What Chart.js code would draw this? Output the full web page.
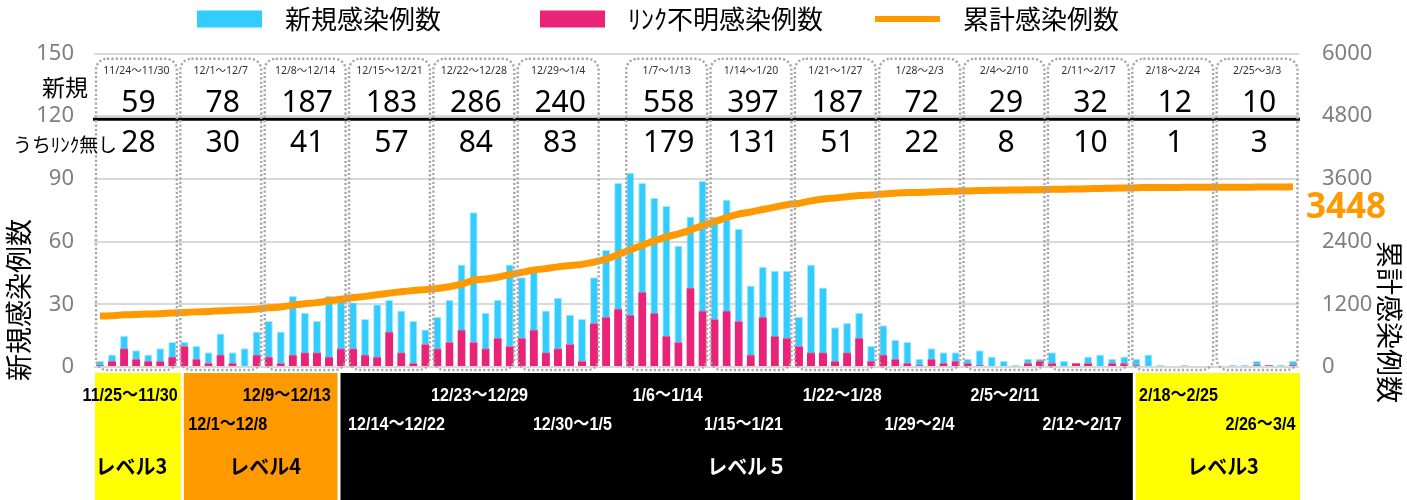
<!DOCTYPE html>
<html><head><meta charset="utf-8">
<script src="https://cdn.jsdelivr.net/npm/chart.js@4/dist/chart.umd.min.js"></script>
<style>html,body{margin:0;padding:0;background:#fff;}#wrap{width:1407px;height:500px;}</style>
</head><body><div id="wrap"><canvas id="c" width="1407" height="500"></canvas></div>
<script>
// ---- data ----
const dates = ['11/24','11/25','11/26','11/27','11/28','11/29','11/30',
'12/1','12/2','12/3','12/4','12/5','12/6','12/7','12/8','12/9','12/10','12/11','12/12','12/13','12/14','12/15','12/16','12/17','12/18','12/19','12/20','12/21','12/22','12/23','12/24','12/25','12/26','12/27','12/28','12/29','12/30','12/31',
'1/1','1/2','1/3','1/4','1/5','1/6','1/7','1/8','1/9','1/10','1/11','1/12','1/13','1/14','1/15','1/16','1/17','1/18','1/19','1/20','1/21','1/22','1/23','1/24','1/25','1/26','1/27','1/28','1/29','1/30','1/31',
'2/1','2/2','2/3','2/4','2/5','2/6','2/7','2/8','2/9','2/10','2/11','2/12','2/13','2/14','2/15','2/16','2/17','2/18','2/19','2/20','2/21','2/22','2/23','2/24','2/25','2/26','2/27','2/28',
'3/1','3/2','3/3'];
const newCases = [3,6,15,8,6,9,12, 12,10,7,16,7,9,17, 22,17,34,26,22,34,32, 31,23,30,32,27,22,18, 24,32,49,74,26,32,49, 43,46,27,33,25,23,43, 56,88, 93,88,81,77,58,72,89, 72,80,66,39,48,46,46, 24,49,38,19,21,26,10, 20,13,12,4,9,7,7, 4,8,5,3,1,4,4, 7,3,2,5,6,4,5, 4,6,1,0,1,0,0, 0,1,1,3,1,1,3];
const unlinkedCases = [1,3,9,4,3,3,5, 10,4,2,6,2,0,6, 5,2,6,7,7,5,9, 9,6,5,17,7,2,11, 9,12,18,12,9,14,10, 14,18,7,9,11,3,21, 24,28, 25,36,26,15,12,38,27, 23,27,22,6,24,15,14, 10,7,7,3,7,14,3, 6,4,2,1,4,2,3, 2,1,0,0,0,2,3, 2,0,2,2,0,2,2, 1,0,0,0,0,0,0, 0,0,0,1,1,0,1];
const cumulative = [977,983,998,1006,1012,1021,1033, 1045,1055,1062,1078,1085,1094,1111, 1133,1150,1184,1210,1232,1266,1298, 1329,1352,1382,1414,1441,1463,1481, 1505,1537,1586,1660,1686,1718,1767, 1810,1856,1883,1916,1941,1964,2007, 2063,2151, 2244,2332,2413,2490,2548,2620,2709, 2781,2861,2927,2966,3014,3060,3106, 3130,3179,3217,3236,3257,3283,3293, 3313,3326,3338,3342,3351,3358,3365, 3369,3377,3382,3385,3386,3390,3394, 3401,3404,3406,3411,3417,3421,3426, 3430,3436,3437,3437,3438,3438,3438, 3438,3439,3440,3443,3444,3445,3448];
const weekLabels = ['11/24～11/30','12/1～12/7','12/8～12/14','12/15～12/21','12/22～12/28','12/29～1/4','1/7～1/13','1/14～1/20','1/21～1/27','1/28～2/3','2/4～2/10','2/11～2/17','2/18～2/24','2/25～3/3'];
const weekNew = [59,78,187,183,286,240,558,397,187,72,29,32,12,10];
const weekUnlinked = [28,30,41,57,84,83,179,131,51,22,8,10,1,3];
const levelNames = ['レベル3','レベル4','レベル５','レベル3'];
const levelFrom = ['11/24','12/1','12/14','2/18'];
const levelTo = ['11/30','12/13','2/17','3/3'];
const periodTexts = ['11/25～11/30','12/9～12/13','12/23～12/29','1/6～1/14','1/22～1/28','2/5～2/11','2/18～2/25','12/1～12/8','12/14～12/22','12/30～1/5','1/15～1/21','1/29～2/4','2/12～2/17','2/26～3/4'];
const leftTicks = [0,30,60,90,120,150];
const rightTicks = [0,1200,2400,3600,4800,6000];
const latestTotal = '3448';

// ---- layout (positions as category index / row) ----
const periodPos = [[2.5,0],[15.5,0],[31.5,0],[47.1,0],[61.6,0],[75.1,0],[89.5,0],[10.6,1],[24.6,1],[39.2,1],[53.4,1],[68.0,1],[81.5,1],[96.3,1]];
const levelPos = [2.6,13.7,53.7,93.2];
const levelFill = ['#FFFF00','#FF9900','#000000','#FFFF00'];
const levelInk = ['#000','#000','#fff','#000'];
const periodInk = ['#000','#000','#fff','#fff','#fff','#fff','#000','#000','#fff','#fff','#fff','#fff','#fff','#000'];

const BLUE='#33CCFF', PINK='#EA2378', ORANGE='#FF9900';
const JP = "'Noto Sans CJK JP', sans-serif";
const NS = "'Noto Sans', 'Noto Sans CJK JP', sans-serif";

function rrect(ctx,x0,y0,x1,y1,r){
  ctx.beginPath();
  ctx.moveTo(x0+r,y0);
  ctx.lineTo(x1-r,y0); ctx.arcTo(x1,y0,x1,y0+r,r);
  ctx.lineTo(x1,y1-r); ctx.arcTo(x1,y1,x1-r,y1,r);
  ctx.lineTo(x0+r,y1); ctx.arcTo(x0,y1,x0,y1-r,r);
  ctx.lineTo(x0,y0+r); ctx.arcTo(x0,y0,x0+r,y0,r);
  ctx.closePath();
}
function condensed(ctx, t, x, y, sx){
  ctx.save(); ctx.translate(x, y); ctx.scale(sx, 1); ctx.fillText(t, 0, 0); ctx.restore();
}

const deco = {
  id:'deco',
  afterDraw(chart){
    const ctx = chart.ctx, x = chart.scales.x, y = chart.scales.y, ca = chart.chartArea;
    const edge = i => x.getPixelForValue(i - 0.5);
    const cx = v => x.getPixelForValue(v);
    ctx.save();
    // black separator line
    ctx.strokeStyle = '#000'; ctx.lineWidth = 3;
    ctx.beginPath(); const yb = y.getPixelForValue(118.5);
    ctx.moveTo(ca.left-1, yb); ctx.lineTo(ca.right+1, yb); ctx.stroke();

    // weekly boxes
    const top = y.getPixelForValue(147.5), bot = y.getPixelForValue(0) + 3;
    weekLabels.forEach((lab, k) => {
      const [s, e] = lab.split('～');
      const i0 = dates.indexOf(s), i1 = dates.indexOf(e);
      const x0 = edge(i0) + 2, x1 = edge(i1 + 1) - 1.5;
      ctx.setLineDash([2.2, 2.2]); ctx.lineWidth = 2.4; ctx.strokeStyle = '#a8a8a8';
      rrect(ctx, x0, top, x1, bot, 11); ctx.stroke();
      ctx.setLineDash([]);
      const mid = (x0 + x1) / 2;
      ctx.fillStyle = '#333'; ctx.textAlign = 'center'; ctx.textBaseline = 'middle';
      ctx.font = "10.5px " + NS;
      ctx.fillText(lab, mid, y.getPixelForValue(141.5));
      ctx.fillStyle = '#000'; ctx.font = "30px " + NS;
      ctx.fillText(String(weekNew[k]), mid + 2, y.getPixelForValue(126.3));
      ctx.fillText(String(weekUnlinked[k]), mid + 2, y.getPixelForValue(106.8));
    });
    ctx.fillStyle = '#000'; ctx.textAlign = 'center'; ctx.textBaseline = 'middle';
    ctx.font = "23px " + JP; ctx.fillText('新規', 65, y.getPixelForValue(133.7));
    ctx.font = "19.5px " + JP; condensed(ctx, 'うちﾘﾝｸ無し', 65, y.getPixelForValue(106.3), 0.97);

    // level bands
    const bandTop = ca.bottom + 6, bandBot = 500;
    levelNames.forEach((nm, k) => {
      const i0 = dates.indexOf(levelFrom[k]), i1 = dates.indexOf(levelTo[k]);
      const xl = k === 0 ? ca.left + 1 : edge(i0) + 4 + 1.5;
      const xr = k === levelNames.length - 1 ? ca.right + 1 : edge(i1 + 1) + 4 - 1.5;
      ctx.fillStyle = levelFill[k]; ctx.fillRect(xl, bandTop, xr - xl, bandBot - bandTop);
    });
    ctx.textAlign = 'center'; ctx.textBaseline = 'middle';
    ctx.font = "bold 19px 'Liberation Sans', 'Noto Sans CJK JP', sans-serif";
    periodTexts.forEach((t, k) => {
      ctx.fillStyle = periodInk[k];
      condensed(ctx, t, cx(periodPos[k][0]), periodPos[k][1] === 0 ? 396 : 425, 0.85);
    });
    ctx.font = "bold 21px " + JP;
    levelNames.forEach((nm, k) => { ctx.fillStyle = levelInk[k]; condensed(ctx, nm, cx(levelPos[k]), 466, 0.95); });

    // axis titles
    ctx.fillStyle = '#000'; ctx.font = "27px " + JP;
    ctx.save(); ctx.translate(19, 300); ctx.rotate(-Math.PI/2); ctx.fillText('新規感染例数', 0, 0); ctx.restore();
    ctx.save(); ctx.translate(1389, 322); ctx.rotate(Math.PI/2); ctx.fillText('累計感染例数', 0, 0); ctx.restore();

    // latest total
    ctx.fillStyle = ORANGE; ctx.font = "bold 35px " + NS; ctx.textAlign = 'left';
    ctx.fillText(latestTotal, 1306, chart.scales.y2.getPixelForValue(3050));

    // legend
    ctx.textAlign = 'left'; ctx.font = "26px " + JP; ctx.textBaseline = 'middle';
    const legY = 19;
    const items = chart.data.datasets.slice().reverse();
    const lx = [197, 540, 875];
    items.forEach((ds, k) => {
      if (ds.type === 'line') {
        ctx.strokeStyle = ds.borderColor; ctx.lineWidth = 6; ctx.beginPath();
        ctx.moveTo(lx[k], legY); ctx.lineTo(lx[k] + 65, legY); ctx.stroke();
      } else {
        ctx.fillStyle = ds.backgroundColor; ctx.fillRect(lx[k], legY - 8.5, 65, 17);
      }
      ctx.fillStyle = '#000'; ctx.fillText(ds.label, lx[k] + 88, legY);
    });
    ctx.restore();
  }
};

new Chart(document.getElementById('c'), {
  data: {
    labels: dates,
    datasets: [
      { type:'line', label:'累計感染例数', data:cumulative, yAxisID:'y2', borderColor:ORANGE, borderWidth:7, pointRadius:0, tension:0.2, borderJoinStyle:'round', order:0 },
      { type:'bar', label:'ﾘﾝｸ不明感染例数', data:unlinkedCases, yAxisID:'y', backgroundColor:PINK, borderColor:'#F36AA6', borderWidth:{top:1,left:0,right:0,bottom:0}, grouped:false, categoryPercentage:1, barPercentage:0.67, order:1 },
      { type:'bar', label:'新規感染例数', data:newCases, yAxisID:'y', backgroundColor:BLUE, borderColor:'#A6E8FF', borderWidth:{top:1,left:1,right:1,bottom:0}, grouped:false, categoryPercentage:1, barPercentage:0.67, order:2 }
    ]
  },
  options: {
    responsive:false, animation:false, devicePixelRatio:1,
    layout:{ padding:{ top:53.5, bottom:133, left:0, right:0 } },
    plugins:{ legend:{display:false}, tooltip:{enabled:false} },
    scales:{
      x:{ display:false, offset:true },
      y:{ position:'left', min:leftTicks[0], max:leftTicks[leftTicks.length-1],
          afterBuildTicks(s){ s.ticks = leftTicks.map(v=>({value:v})); },
          ticks:{ color:'#7f7f7f', font:{size:22, family:"'Noto Sans'"}, padding:20, callback:v=>String(v) },
          grid:{ color:'#d9d9d9', lineWidth:2, drawTicks:false }, border:{display:false},
          afterFit(s){ s.width = 94; } },
      y2:{ position:'right', min:rightTicks[0], max:rightTicks[rightTicks.length-1],
          afterBuildTicks(s){ s.ticks = rightTicks.map(v=>({value:v})); },
          ticks:{ color:'#7f7f7f', font:{size:22, family:"'Noto Sans'"}, padding:23, callback:v=>String(v) },
          grid:{ display:false, drawTicks:false }, border:{display:false},
          afterFit(s){ s.width = 108; } }
    }
  },
  plugins:[deco]
});
</script></body></html>
